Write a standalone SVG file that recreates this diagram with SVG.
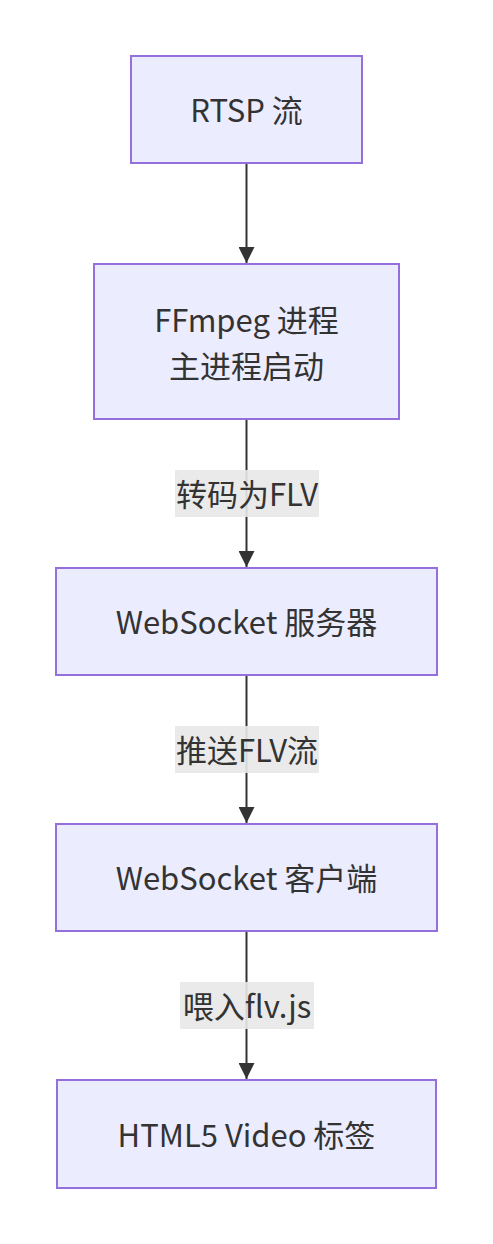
<svg xmlns="http://www.w3.org/2000/svg" width="493" height="1244" viewBox="0 0 493 1244">
<style>
.node rect{fill:#ECECFF;stroke:#9370DB;stroke-width:2}
text{font-family:"Noto Sans CJK SC","Noto Sans",sans-serif;font-size:31px;fill:#333;text-anchor:middle;dominant-baseline:central}
.edge{stroke:#333;stroke-width:2;fill:none}
.lbl rect{fill:#e8e8e8;opacity:0.9}
</style>
<defs>
<marker id="arr" viewBox="0 0 10 10" refX="10" refY="5" markerWidth="16" markerHeight="16" markerUnits="userSpaceOnUse" orient="auto">
<path d="M0,0 L10,5 L0,10 z" fill="#333"/>
</marker>
</defs>
<g id="connectors">
<line class="edge" x1="246.5" y1="164" x2="246.5" y2="263" marker-end="url(#arr)"/>
<line class="edge" x1="246.5" y1="420" x2="246.5" y2="567" marker-end="url(#arr)"/>
<line class="edge" x1="246.5" y1="676" x2="246.5" y2="823" marker-end="url(#arr)"/>
<line class="edge" x1="246.5" y1="932" x2="246.5" y2="1079" marker-end="url(#arr)"/>
<g class="lbl"><rect x="175" y="470" width="144" height="47"/><text x="247" y="492.5">转码为FLV</text></g>
<g class="lbl"><rect x="175" y="726" width="144" height="47"/><text x="247" y="748.5">推送FLV流</text></g>
<g class="lbl"><rect x="180" y="982" width="134" height="47"/><text x="247" y="1004.5">喂入flv.js</text></g>
</g>
<g id="n1" class="node"><rect x="131" y="56" width="231" height="107"/><text x="246.5" y="108.5">RTSP 流</text></g>
<g id="n2" class="node"><rect x="94" y="264" width="305" height="155"/><text x="246.5" y="318">FFmpeg 进程</text><text x="246.5" y="364">主进程启动</text></g>
<g id="n3" class="node"><rect x="56" y="568" width="381" height="107"/><text x="246.5" y="620.5">WebSocket 服务器</text></g>
<g id="n4" class="node"><rect x="56" y="824" width="381" height="107"/><text x="246.5" y="876.5">WebSocket 客户端</text></g>
<g id="n5" class="node"><rect x="57" y="1080" width="379" height="108"/><text x="246.5" y="1133">HTML5 Video 标签</text></g>
</svg>
